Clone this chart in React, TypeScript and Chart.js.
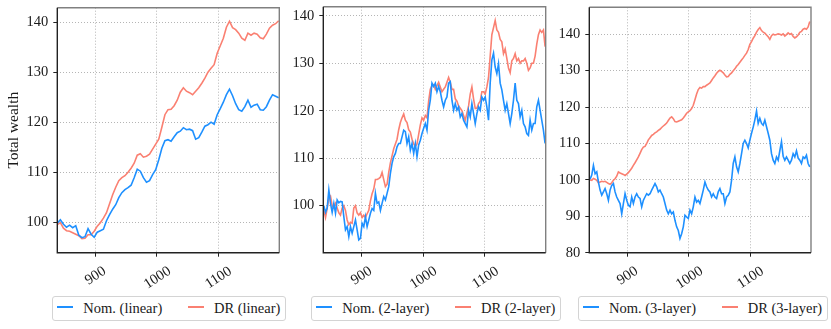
import React, { useEffect, useRef, useState } from "react";
import { Chart, registerables } from "chart.js";

Chart.register(...registerables);

const FONT = '"Liberation Serif", "Times New Roman", serif';
const BLUE = "#1E90FF";
const RED = "#FA8072";
const TEXT = "#1a1a1a";
const GRID = "#b5b5b5";

// ---- data ----
const xTicks = [900, 1000, 1100];
const xMin = 838;
const xMax = 1199;

const p1Start = 838;
const p1Step = 5;
const p1Nom = [
  99.8, 100.5, 99.6, 99.0, 99.4, 98.9, 99.3, 97.4, 96.9, 97.1,
  98.7, 97.6, 97.0, 98.0, 98.3, 98.6, 100.3, 101.5, 102.6, 103.5,
  104.9, 105.9, 106.5, 106.9, 107.4, 108.9, 110.6, 110.2, 108.9, 108.0,
  108.3, 109.5, 110.5, 112.5, 114.8, 116.3, 116.5, 116.2, 117.1, 117.9,
  118.2, 118.9, 118.5, 118.6, 118.3, 116.6, 116.9, 118.0, 119.2, 119.5,
  120.0, 119.6, 121.5, 122.7, 124.0, 125.5, 126.6, 125.3, 123.7, 122.5,
  122.2, 123.1, 124.4, 123.0, 123.4, 123.6, 122.5, 122.4, 123.1, 124.4,
  125.5, 125.2, 124.9,
];
const p1Dr = [
  99.5, 99.9, 98.8, 98.3, 98.2, 97.9, 97.6, 97.3, 96.7, 96.8,
  97.5, 97.5, 98.2, 99.2, 99.9, 100.8, 101.9, 103.7, 105.5, 107.0,
  108.3, 108.9, 109.3, 110.0, 110.8, 111.8, 113.4, 113.7, 113.0, 113.2,
  113.6, 114.6, 115.6, 116.6, 119.0, 121.5, 122.5, 122.6, 123.3, 124.4,
  126.0, 126.9, 126.2, 125.9, 125.5, 126.2, 126.9, 127.8, 128.8, 130.0,
  130.8, 131.5, 133.8, 135.3, 136.8, 139.0, 140.2, 138.9, 138.5, 137.8,
  136.8, 136.4, 137.8, 137.4, 137.8, 137.6, 136.9, 136.7, 137.6, 138.8,
  139.4, 139.7, 140.3,
];

const p2Start = 838.9;
const p2Step = 2.7;
const p2Nom = [
  100.0, 98.6, 99.5, 103.3, 100.5, 98.6, 100.5, 98.4, 101.2, 100.6,
  100.9, 100.8, 97.7, 94.9, 95.6, 93.5, 95.6, 94.2, 95.6, 97.0,
  94.9, 92.8, 93.1, 96.3, 95.6, 97.7, 95.6, 97.0, 98.4, 99.4,
  99.0, 102.6, 100.5, 100.8, 99.0, 100.5, 101.9, 101.2, 102.6, 104.0,
  106.8, 108.9, 110.3, 111.0, 112.4, 113.1, 113.1, 114.5, 115.9, 115.6,
  113.1, 114.5, 111.7, 113.1, 111.0, 113.1, 110.3, 112.8, 113.8, 115.2,
  116.3, 117.3, 115.9, 120.1, 122.2, 125.8, 125.1, 125.8, 124.0, 125.1,
  124.0, 122.2, 120.8, 122.2, 122.9, 125.8, 126.1, 122.2, 120.1, 121.5,
  120.1, 120.8, 118.7, 119.4, 118.0, 117.3, 116.6, 120.1, 118.7, 121.5,
  119.4, 117.3, 119.4, 120.8, 120.1, 122.9, 122.2, 122.9, 120.8, 118.0,
  125.8, 130.7, 132.1, 129.2, 127.8, 129.9, 125.8, 124.4, 122.2, 120.1,
  121.5, 119.4, 117.3, 119.4, 122.2, 125.8, 122.2, 121.5, 118.7, 120.1,
  117.3, 116.6, 115.2, 114.8, 118.0, 115.9, 117.3, 117.3, 120.8, 122.2,
  120.1, 118.0, 115.9, 113.1,
];
const p2Dr = [
  99.0, 97.5, 99.5, 101.5, 102.0, 100.0, 99.5, 100.5, 99.5, 98.5,
  98.0, 99.5, 100.0, 99.0, 97.0, 96.0, 96.5, 96.3, 99.5, 100.0,
  98.5, 98.0, 98.5, 97.5, 98.0, 97.5, 98.3, 99.0, 101.0, 102.5,
  103.5, 105.5, 105.5, 105.7, 106.0, 107.0, 105.5, 104.0, 104.5, 107.0,
  109.0, 110.5, 112.0, 113.0, 114.0, 116.0, 117.5, 118.5, 119.3, 118.0,
  117.5, 116.0, 115.5, 114.0, 113.0, 112.5, 113.0, 115.0, 117.0, 118.5,
  118.0, 119.0, 118.5, 122.0, 124.5, 125.3, 125.5, 124.5, 125.3, 126.0,
  125.0, 124.0, 124.5, 125.0, 126.0, 127.0, 126.0, 124.5, 124.5, 122.5,
  122.0, 121.0, 120.5, 120.0, 119.0, 118.0, 119.5, 121.0, 123.5, 125.0,
  122.5, 120.5, 120.5, 121.5, 122.0, 124.0, 124.0, 123.5, 125.0, 127.0,
  131.5, 136.0, 137.5, 139.0, 137.0, 136.5, 135.0, 134.5, 132.0, 133.0,
  131.0, 129.0, 128.0, 130.5, 131.0, 132.0, 130.5, 131.0, 130.0, 130.5,
  130.5, 131.0, 130.0, 128.5, 129.0, 130.0, 130.0, 131.5, 134.0, 136.0,
  137.0, 136.5, 137.0, 133.5,
];

const p3Start = 839.3;
const p3Step = 2.71;
const p3Nom = [
  100.2, 101.3, 104.0, 101.7, 102.2, 99.4, 97.2, 95.8, 96.7, 97.6,
  96.2, 94.4, 97.2, 98.5, 99.0, 96.7, 95.3, 94.4, 93.5, 90.7,
  93.5, 96.2, 94.4, 93.0, 92.6, 95.3, 93.5, 95.3, 96.2, 95.3,
  94.9, 92.6, 94.4, 95.3, 96.2, 95.8, 96.2, 97.2, 98.1, 99.0,
  98.1, 96.7, 97.2, 96.2, 95.3, 93.5, 91.7, 90.7, 91.7, 90.7,
  91.2, 88.9, 87.1, 86.1, 83.9, 85.2, 87.1, 90.3, 89.8, 89.4,
  91.7, 90.7, 92.6, 95.3, 93.9, 94.4, 93.5, 95.3, 97.2, 99.4,
  98.1, 97.2, 96.7, 95.3, 96.2, 95.3, 94.9, 96.7, 97.6, 96.2,
  96.2, 93.5, 95.3, 95.8, 96.7, 99.9, 104.5, 106.3, 103.6, 102.2,
  104.5, 107.2, 110.0, 110.9, 110.0, 108.8, 110.9, 112.8, 114.5, 116.5,
  118.9, 115.5, 116.9, 115.5, 115.0, 116.4, 114.6, 112.8, 110.9, 107.2,
  105.4, 104.5, 106.3, 105.4, 108.0, 110.5, 106.5, 105.4, 106.3, 105.4,
  104.5, 105.4, 107.2, 106.3, 108.0, 106.0, 105.4, 104.5, 106.3, 105.9,
  106.8, 104.5, 103.6,
];
const p3Dr = [
  100.0, 99.9, 100.4, 100.2, 99.9, 99.2, 99.4, 99.6, 99.5, 99.6,
  99.3, 99.0, 98.8, 99.2, 99.9, 100.3, 101.0, 102.2, 101.9, 101.7,
  101.5, 101.2, 101.6, 102.0, 102.6, 103.2, 104.0, 104.7, 105.5, 106.3,
  107.3, 108.3, 109.0, 109.2, 110.0, 111.0, 111.6, 112.2, 112.5, 112.9,
  113.2, 113.6, 113.9, 114.4, 114.8, 115.2, 115.6, 116.3, 117.0, 117.3,
  116.8, 116.0, 115.9, 116.1, 116.3, 116.5, 117.0, 117.6, 118.3, 118.7,
  119.0, 119.6, 120.5, 122.0, 123.6, 124.8, 125.4, 125.2, 125.6, 125.6,
  126.0, 126.3, 126.6, 127.3, 128.0, 128.6, 129.3, 129.8, 130.1, 129.8,
  129.4, 128.8, 128.3, 128.4, 129.0, 129.4, 130.0, 130.5, 131.2, 131.7,
  132.3, 132.9, 133.5, 134.2, 134.8, 135.8, 137.2, 138.0, 138.9, 139.6,
  140.6, 141.3, 141.8, 141.0, 140.6, 140.3, 139.8, 139.3, 138.6, 139.6,
  140.0, 139.8, 139.9, 140.1, 140.0, 139.8, 140.1, 139.5, 139.9, 140.4,
  140.0, 140.2, 139.4, 139.0, 139.3, 139.8, 140.5, 140.8, 141.4, 141.6,
  141.4, 142.0, 143.5,
];

const p1YTicks = [100, 110, 120, 130, 140];
const p2YTicks = [100, 110, 120, 130, 140];
const p3YTicks = [80, 90, 100, 110, 120, 130, 140];

const p1Labels = ["Nom. (linear)", "DR (linear)"];
const p2Labels = ["Nom. (2-layer)", "DR (2-layer)"];
const p3Labels = ["Nom. (3-layer)", "DR (3-layer)"];
const yTitle = "Total wealth";

// ---- layout ----
const CANVAS_H = 292;
const TICK_FONT = 14.5;
const ROT_DEG = 33;

const panels = [
  {
    nom: p1Nom, dr: p1Dr, start: p1Start, step: p1Step,
    yMin: 93.9, yMax: 142.9, yTicks: p1YTicks, labels: p1Labels, title: yTitle,
    canvasL: 0, canvasW: 290, plotL: 57.3, plotR: 279.3, plotT: 7.7, plotB: 252.7, legendL: 52.3,
  },
  {
    nom: p2Nom, dr: p2Dr, start: p2Start, step: p2Step,
    yMin: 90.1, yMax: 141.9, yTicks: p2YTicks, labels: p2Labels, title: "",
    canvasL: 290, canvasW: 262, plotL: 323.3, plotR: 545.7, plotT: 6.7, plotB: 252.7, legendL: 311.3,
  },
  {
    nom: p3Nom, dr: p3Dr, start: p3Start, step: p3Step,
    yMin: 80, yMax: 147.4, yTicks: p3YTicks, labels: p3Labels, title: "",
    canvasL: 556, canvasW: 275, plotL: 589.3, plotR: 811, plotT: 7.3, plotB: 252.7, legendL: 578,
  },
];

const framePlugin = {
  id: "frame",
  afterDraw(chart: any) {
    const { ctx, chartArea: a } = chart;
    ctx.save();
    ctx.lineWidth = 1.4;
    ctx.strokeStyle = "#808080";
    ctx.beginPath();
    ctx.moveTo(a.left, a.top);
    ctx.lineTo(a.right, a.top);
    ctx.lineTo(a.right, a.bottom);
    ctx.stroke();
    ctx.strokeStyle = "#222222";
    ctx.beginPath();
    ctx.moveTo(a.left, a.top);
    ctx.lineTo(a.left, a.bottom);
    ctx.lineTo(a.right, a.bottom);
    ctx.stroke();
    ctx.restore();
  },
};

type XLabel = { t: string; x: number; y: number };

function Panel({ idx }: { idx: number }) {
  const ref = useRef<HTMLCanvasElement>(null);
  const [xl, setXl] = useState<XLabel[]>([]);
  const c = panels[idx];
  useEffect(() => {
    const yAxisW = c.plotL - c.canvasL;
    const padRight = c.canvasL + c.canvasW - c.plotR;
    const xAxisH = CANVAS_H - c.plotB;
    const pts = (arr: number[]) => arr.map((v, i) => ({ x: c.start + i * c.step, y: v }));
    const chart = new Chart(ref.current as HTMLCanvasElement, {
      type: "line",
      data: {
        datasets: [
          { label: c.labels[0], data: pts(c.nom), borderColor: BLUE, borderWidth: 1.6, pointRadius: 0, tension: 0 },
          { label: c.labels[1], data: pts(c.dr), borderColor: RED, borderWidth: 1.6, pointRadius: 0, tension: 0 },
        ],
      },
      options: {
        animation: false,
        responsive: false,
        devicePixelRatio: 1,
        layout: { padding: { left: 0, right: padRight, top: c.plotT, bottom: 0 } },
        plugins: { legend: { display: false }, tooltip: { enabled: false } },
        scales: {
          x: {
            type: "linear",
            min: xMin,
            max: xMax,
            afterBuildTicks: (s: any) => {
              s.ticks = xTicks.map((v) => ({ value: v }));
            },
            afterFit: (s: any) => {
              s.height = xAxisH;
              s.paddingLeft = 0;
              s.paddingRight = 0;
            },
            ticks: { display: false },
            grid: { color: GRID, tickColor: "#222222", tickLength: 4, tickBorderDash: [] },
            border: { display: false, dash: [1, 2] },
          },
          y: {
            type: "linear",
            min: c.yMin,
            max: c.yMax,
            afterBuildTicks: (s: any) => {
              s.ticks = c.yTicks.map((v) => ({ value: v }));
            },
            afterFit: (s: any) => {
              s.width = yAxisW;
              s.paddingTop = 0;
              s.paddingBottom = 0;
            },
            ticks: { font: { family: FONT, size: TICK_FONT }, color: TEXT, padding: 5 },
            title: {
              display: c.title !== "",
              text: c.title,
              font: { family: FONT, size: 15.5 },
              color: TEXT,
              padding: { top: 5, bottom: 0 },
            },
            grid: { color: GRID, tickColor: "#222222", tickLength: 4, tickBorderDash: [] },
            border: { display: false, dash: [1, 2] },
          },
        },
      } as any,
      plugins: [framePlugin],
    });

    // x tick labels: rotated, centred on the library's tick positions
    const s: any = chart.scales.x;
    const a = chart.chartArea;
    const th = (ROT_DEG * Math.PI) / 180;
    const m = document.createElement("canvas").getContext("2d") as CanvasRenderingContext2D;
    m.font = TICK_FONT + "px " + FONT;
    setXl(
      s.ticks.map((t: any) => {
        const txt = String(t.value);
        const w = m.measureText(txt).width;
        const H = w * Math.sin(th) + TICK_FONT * 0.75 * Math.cos(th);
        return { t: txt, x: c.canvasL + s.getPixelForValue(t.value), y: a.bottom + 11.8 + H / 2 };
      })
    );
    return () => chart.destroy();
  }, []);
  return (
    <>
      <canvas
        ref={ref}
        width={c.canvasW}
        height={CANVAS_H}
        style={{ position: "absolute", left: c.canvasL, top: 0, width: c.canvasW, height: CANVAS_H }}
      />
      {xl.map((l) => (
        <span
          key={l.t}
          style={{
            position: "absolute",
            left: l.x,
            top: l.y,
            transform: `translate(-50%, -50%) rotate(-${ROT_DEG}deg)`,
            fontFamily: FONT,
            fontSize: TICK_FONT,
            lineHeight: 1,
            color: TEXT,
            whiteSpace: "nowrap",
          }}
        >
          {l.t}
        </span>
      ))}
    </>
  );
}

function Legend({ idx }: { idx: number }) {
  const c = panels[idx];
  const line = (color: string) => (
    <span style={{ display: "inline-block", width: 16, height: 2, background: color, marginRight: 10, marginTop: -3 }} />
  );
  return (
    <div
      style={{
        position: "absolute",
        left: c.legendL,
        top: 295.7,
        height: 25,
        boxSizing: "border-box",
        border: "1px solid #d4d4d4",
        borderRadius: 3,
        display: "flex",
        alignItems: "center",
        paddingLeft: 4,
        paddingRight: 5,
        fontFamily: FONT,
        fontSize: 14.5,
        color: TEXT,
        whiteSpace: "nowrap",
        background: "#fff",
      }}
    >
      {line(BLUE)}
      <span style={{ marginRight: 25.7 }}>{c.labels[0]}</span>
      {line(RED)}
      <span>{c.labels[1]}</span>
    </div>
  );
}

export default function App() {
  return (
    <div style={{ position: "absolute", left: 0, top: 0, width: 831, height: 329, background: "#ffffff", overflow: "hidden" }}>
      <Panel idx={0} />
      <Panel idx={1} />
      <Panel idx={2} />
      <Legend idx={0} />
      <Legend idx={1} />
      <Legend idx={2} />
    </div>
  );
}
